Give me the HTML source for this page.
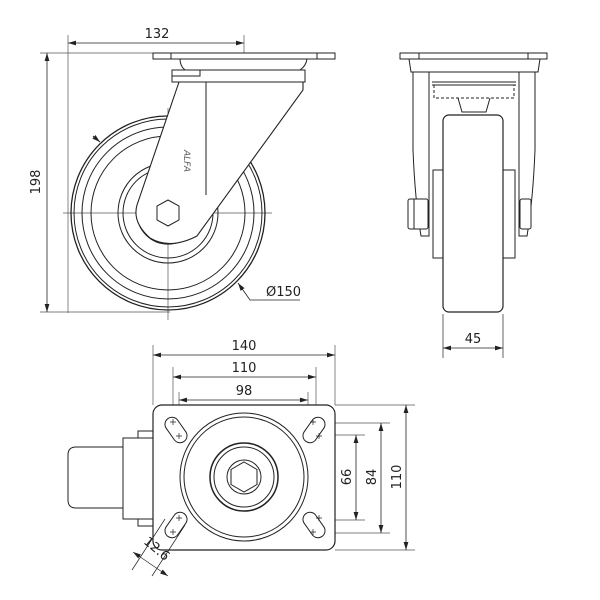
<!DOCTYPE html>
<html><head><meta charset="utf-8"><style>
html,body{margin:0;padding:0;background:#fff}
svg{display:block}
text{font-family:"DejaVu Sans","Liberation Sans",sans-serif;font-size:13px;fill:#222}
</style></head><body>
<svg width="600" height="600" viewBox="0 0 600 600" xmlns="http://www.w3.org/2000/svg">
<defs>
<marker id="a" viewBox="0 0 10 6" refX="10" refY="3" markerWidth="8" markerHeight="5" orient="auto-start-reverse" markerUnits="userSpaceOnUse"><path d="M0,0L10,3L0,6z" fill="#222"/></marker>
</defs>
<g fill="none" stroke="#222" stroke-width="1">
<!-- SIDE VIEW -->
<g stroke-width="0.7" stroke="#555">
<line x1="68" y1="35" x2="68" y2="313"/>
<line x1="244" y1="35" x2="244" y2="66"/>
<line x1="40" y1="53" x2="153" y2="53"/>
<line x1="40" y1="312" x2="170" y2="312"/>
<line x1="63" y1="213" x2="272" y2="213"/>
<line x1="168" y1="108" x2="168" y2="320"/>
</g>
<line x1="68" y1="43" x2="244" y2="43" marker-start="url(#a)" marker-end="url(#a)" stroke-width="0.8"/>
<line x1="47" y1="53" x2="47" y2="312" marker-start="url(#a)" marker-end="url(#a)" stroke-width="0.8"/>
<circle cx="168" cy="213" r="97" stroke-width="1.3"/>
<circle cx="168" cy="213" r="94"/>
<circle cx="168" cy="213" r="86"/>
<circle cx="168" cy="213" r="77"/>
<circle cx="168" cy="213" r="50"/>
<circle cx="168" cy="213" r="45"/>
<circle cx="168" cy="213" r="31" stroke-width="1.2"/>
<path d="M179,82 L303,82 L303,90 L197,236 Q170,250 150,238 Q132,222 137,205 Z" fill="#fff" stroke-width="1.1"/>
<line x1="206" y1="82" x2="206" y2="195"/>
<polygon points="168,200 179,206 179,220 168,226 157,220 157,206" fill="#fff"/>
<rect x="153" y="53" width="182" height="6" fill="#fff"/>
<line x1="171" y1="53" x2="171" y2="59"/><line x1="317" y1="53" x2="317" y2="59"/>
<path d="M180,59 L307,59 Q306,66 300,70 L185,70 Q180,66 180,59Z" fill="#fff"/>
<rect x="172" y="70" width="133" height="12" fill="#fff"/>
<rect x="172" y="70" width="28" height="6" fill="#fff"/>
<path d="M93,136 L100,142" marker-end="url(#a)"/>
<path d="M238,283 L250,300 L300,300" stroke-width="0.8" marker-start="url(#a)"/>

<!-- FRONT VIEW -->
<rect x="400" y="53" width="147" height="6" fill="#fff"/>
<line x1="419" y1="53" x2="419" y2="59"/><line x1="528" y1="53" x2="528" y2="59"/>
<path d="M409,59 L540,59 L538,72 L411,72Z"/>
<path d="M413,72 L429,72 L429,236 L421,236 Q415,200 413,150Z"/>
<path d="M535,72 L519,72 L519,236 L527,236 Q533,200 535,150Z"/>
<line x1="432" y1="82" x2="516" y2="82"/>
<line x1="432" y1="85" x2="516" y2="85"/>
<path d="M434,85 L434,98 L514,98 L514,85" stroke-dasharray="3,2"/>
<path d="M458,98 L462,112 L486,112 L490,98"/>
<rect x="433" y="170" width="82" height="88"/>
<rect x="443" y="115" width="60" height="197" rx="6" fill="#fff" stroke-width="1.2"/>
<rect x="408" y="199" width="20" height="30" rx="2" fill="#fff"/>
<line x1="414" y1="199" x2="414" y2="229"/>
<rect x="520" y="199" width="11" height="30" rx="2" fill="#fff"/>
<line x1="443" y1="314" x2="443" y2="358" stroke-width="0.7"/>
<line x1="503" y1="314" x2="503" y2="358" stroke-width="0.7"/>
<line x1="443" y1="348" x2="503" y2="348" marker-start="url(#a)" marker-end="url(#a)" stroke-width="0.8"/>

<!-- TOP VIEW -->
<g stroke-width="0.7" stroke="#555">
<line x1="153" y1="345" x2="153" y2="405"/>
<line x1="335" y1="345" x2="335" y2="405"/>
<line x1="173" y1="367" x2="173" y2="425"/>
<line x1="316" y1="367" x2="316" y2="425"/>
<line x1="179" y1="392" x2="179" y2="432"/>
<line x1="308" y1="392" x2="308" y2="432"/>
<line x1="335" y1="405" x2="415" y2="405"/>
<line x1="335" y1="550" x2="415" y2="550"/>
<line x1="318" y1="423" x2="390" y2="423"/>
<line x1="318" y1="533" x2="390" y2="533"/>
<line x1="318" y1="435" x2="365" y2="435"/>
<line x1="318" y1="520" x2="365" y2="520"/>
<line x1="176" y1="477" x2="312" y2="477"/>
<line x1="244" y1="405" x2="244" y2="550"/>
</g>
<line x1="153" y1="355" x2="335" y2="355" marker-start="url(#a)" marker-end="url(#a)" stroke-width="0.8"/>
<line x1="173" y1="377" x2="316" y2="377" marker-start="url(#a)" marker-end="url(#a)" stroke-width="0.8"/>
<line x1="179" y1="400" x2="308" y2="400" marker-start="url(#a)" marker-end="url(#a)" stroke-width="0.8"/>
<line x1="356" y1="435" x2="356" y2="520" marker-start="url(#a)" marker-end="url(#a)" stroke-width="0.8"/>
<line x1="381" y1="423" x2="381" y2="533" marker-start="url(#a)" marker-end="url(#a)" stroke-width="0.8"/>
<line x1="406" y1="405" x2="406" y2="550" marker-start="url(#a)" marker-end="url(#a)" stroke-width="0.8"/>
<path d="M123,447 L76,447 Q68,447 68,455 L68,500 Q68,508 76,508 L123,508"/>
<rect x="123" y="438" width="30" height="81"/>
<rect x="138" y="431" width="15" height="7"/>
<rect x="138" y="519" width="15" height="7"/>
<rect x="153" y="405" width="182" height="145" rx="9" fill="#fff" stroke-width="1.2"/>
<circle cx="244" cy="477" r="64"/>
<circle cx="244" cy="477" r="60"/>
<circle cx="244" cy="477" r="34" stroke-width="1.5"/>
<circle cx="244" cy="477" r="30"/>
<circle cx="244" cy="477" r="17"/>
<polygon points="244,462 257,469.5 257,484.5 244,492 231,484.5 231,469.5"/>
<g transform="translate(176,430) rotate(55)"><rect x="-14" y="-7" width="28" height="14" rx="7"/></g>
<g transform="translate(314,430) rotate(-55)"><rect x="-14" y="-7" width="28" height="14" rx="7"/></g>
<g transform="translate(176,525) rotate(-55)"><rect x="-14" y="-7" width="28" height="14" rx="7"/></g>
<g transform="translate(314,525) rotate(55)"><rect x="-14" y="-7" width="28" height="14" rx="7"/></g>
<g stroke-width="0.7">
<path d="M170,422h6M173,419v6 M176,436h6M179,433v6 M310,422h6M313,419v6 M316,436h6M319,433v6 M170,532h6M173,529v6 M176,518h6M179,515v6 M310,532h6M313,529v6 M316,518h6M319,515v6"/>
<line x1="165" y1="519" x2="132" y2="570"/>
<line x1="185" y1="525" x2="152" y2="576"/>
<line x1="133" y1="552" x2="168" y2="576" marker-start="url(#a)" marker-end="url(#a)"/>
</g>
</g>
<text transform="translate(184,150) rotate(90)" style="font-size:9px;font-style:italic;fill:#555">ALFA</text>
<text x="157" y="38" text-anchor="middle">132</text>
<text transform="translate(40,182) rotate(-90)" text-anchor="middle">198</text>
<text x="266" y="296">Ø150</text>
<text x="473" y="343" text-anchor="middle">45</text>
<text x="244" y="350" text-anchor="middle">140</text>
<text x="244" y="372" text-anchor="middle">110</text>
<text x="244" y="395" text-anchor="middle">98</text>
<text transform="translate(351,477) rotate(-90)" text-anchor="middle">66</text>
<text transform="translate(376,477) rotate(-90)" text-anchor="middle">84</text>
<text transform="translate(401,477) rotate(-90)" text-anchor="middle">110</text>
<text transform="translate(154,552) rotate(40)" text-anchor="middle">12.6</text>
</svg>
</body></html>
